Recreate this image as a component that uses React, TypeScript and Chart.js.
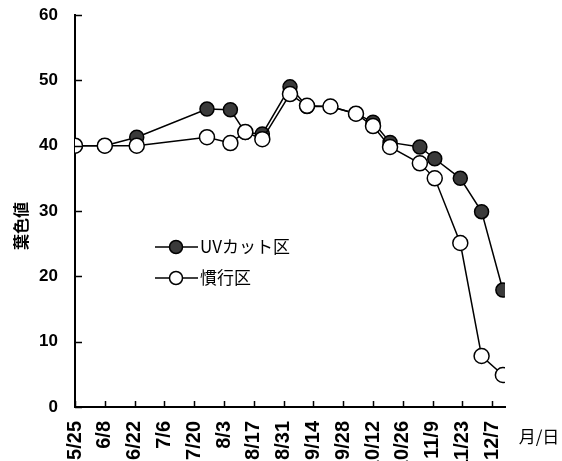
import React, { useEffect, useRef } from "react";
import { Chart, registerables } from "chart.js";

Chart.register(...registerables);

// Sampling dates (month/day) and leaf colour readings for each plot
const sampleDates = [
  "5/25", "6/8", "6/23", "7/26", "8/6", "8/13", "8/21", "9/3", "9/11",
  "9/22", "10/4", "10/12", "10/20", "11/3", "11/10", "11/22", "12/2", "12/12",
];
const uvCutValues = [
  40, 40, 41.3, 45.6, 45.5, 42.0, 41.8, 49.0, 46.0,
  46.0, 44.9, 43.6, 40.5, 39.8, 38.0, 35.0, 29.9, 17.9,
];
const conventionalValues = [
  40, 40, 40, 41.3, 40.4, 42.1, 41.0, 47.9, 46.1,
  46.0, 44.9, 43.0, 39.8, 37.3, 35.0, 25.1, 7.8, 4.9,
];
const tickDates = [
  "5/25", "6/8", "6/22", "7/6", "7/20", "8/3", "8/17", "8/31",
  "9/14", "9/28", "10/12", "10/26", "11/9", "11/23", "12/7",
];
const yTicks = [0, 10, 20, 30, 40, 50, 60];
const seriesNames = ["UVカット区", "慣行区"];
const yTitle = "葉色値";
const xTitle = "月/日";

const START = Date.UTC(2001, 4, 25);
const DAY = 86400000;
const dayOf = (md: string) => {
  const [m, d] = md.split("/").map(Number);
  return Math.round((Date.UTC(2001, m - 1, d) - START) / DAY);
};

const NUM_FONT = '"Liberation Sans", Arial, sans-serif';
const JP_FONT = '"Noto Sans CJK JP", "Noto Sans", sans-serif';
const CANVAS_W = 562;
const CANVAS_H = 480;
const AREA_TOP = 15;
const AREA_BOTTOM = 407;
const AREA_LEFT = 75;
const AREA_RIGHT = 505;

const decor = {
  id: "decor",
  afterDraw(chart: any) {
    const { ctx, chartArea: area } = chart;
    const xs = chart.scales.x;
    const ys = chart.scales.y;
    ctx.save();
    ctx.strokeStyle = "#000";
    ctx.lineWidth = 1.5;
    // inward tick marks
    ctx.beginPath();
    xs.ticks.forEach((t: any) => {
      const px = Math.round(xs.getPixelForValue(t.value)) + 0.5;
      ctx.moveTo(px, area.bottom);
      ctx.lineTo(px, area.bottom - 6);
    });
    ys.ticks.forEach((t: any) => {
      const py = Math.round(ys.getPixelForValue(t.value)) + 0.5;
      ctx.moveTo(area.left, py);
      ctx.lineTo(area.left + 7, py);
    });
    ctx.stroke();

    // legend inside the plot
    const rows = [
      { name: seriesNames[0], fill: "#3a3a3a", y: 247 },
      { name: seriesNames[1], fill: "#ffffff", y: 278 },
    ];
    rows.forEach((r) => {
      ctx.beginPath();
      ctx.lineWidth = 1.5;
      ctx.moveTo(155, r.y);
      ctx.lineTo(198, r.y);
      ctx.stroke();
      ctx.beginPath();
      ctx.arc(176, r.y, 6.5, 0, Math.PI * 2);
      ctx.fillStyle = r.fill;
      ctx.fill();
      ctx.stroke();
      ctx.fillStyle = "#000";
      ctx.font = `17px ${JP_FONT}`;
      ctx.textAlign = "left";
      ctx.textBaseline = "middle";
      ctx.fillText(r.name, 200, r.y);
    });

    // axis titles
    ctx.fillStyle = "#000";
    ctx.font = `bold 16px ${JP_FONT}`;
    ctx.save();
    ctx.translate(21, 226);
    ctx.rotate(-Math.PI / 2);
    ctx.textAlign = "center";
    ctx.textBaseline = "middle";
    ctx.fillText(yTitle, 0, 0);
    ctx.restore();

    ctx.font = `17px ${JP_FONT}`;
    ctx.textAlign = "center";
    ctx.textBaseline = "middle";
    ctx.fillText(xTitle, 539, 437);
    ctx.restore();
  },
};

export default function App() {
  const ref = useRef<HTMLCanvasElement>(null);

  useEffect(() => {
    if (!ref.current) return;
    const tickDays = tickDates.map(dayOf);
    const chart = new Chart(ref.current, {
      type: "line",
      data: {
        datasets: [
          {
            label: seriesNames[0],
            data: sampleDates.map((d, i) => ({ x: dayOf(d), y: uvCutValues[i] })),
            borderColor: "#000",
            borderWidth: 1.5,
            pointRadius: 7,
            pointBorderWidth: 1.5,
            pointBackgroundColor: "#3a3a3a",
            pointBorderColor: "#000",
            order: 2,
          },
          {
            label: seriesNames[1],
            data: sampleDates.map((d, i) => ({ x: dayOf(d), y: conventionalValues[i] })),
            borderColor: "#000",
            borderWidth: 1.5,
            pointRadius: 7.5,
            pointBorderWidth: 1.5,
            pointBackgroundColor: "#fff",
            pointBorderColor: "#000",
            order: 1,
          },
        ],
      },
      options: {
        animation: false,
        responsive: false,
        layout: {
          autoPadding: false,
          padding: { top: AREA_TOP, right: CANVAS_W - AREA_RIGHT, left: 0, bottom: 0 },
        },
        plugins: { legend: { display: false }, tooltip: { enabled: false } },
        scales: {
          x: {
            type: "linear",
            min: 0,
            max: 202,
            afterBuildTicks: (s: any) => {
              s.ticks = tickDays.map((v) => ({ value: v }));
            },
            afterFit: (s: any) => {
              s.height = CANVAS_H - AREA_BOTTOM;
              s.paddingLeft = 0;
              s.paddingRight = 0;
            },
            grid: { display: true, drawOnChartArea: false, drawTicks: false },
            border: { display: true, color: "#000", width: 2 },
            ticks: {
              autoSkip: false,
              minRotation: 90,
              maxRotation: 90,
              padding: 14,
              color: "#000",
              font: { family: NUM_FONT, size: 20, weight: "bold" },
              callback: (v: any) => tickDates[tickDays.indexOf(Number(v))] ?? "",
            },
          },
          y: {
            min: 0,
            max: 60,
            afterBuildTicks: (s: any) => {
              s.ticks = yTicks.map((v) => ({ value: v }));
            },
            afterFit: (s: any) => {
              s.width = AREA_LEFT;
              s.paddingTop = 0;
              s.paddingBottom = 0;
            },
            grid: { display: true, drawOnChartArea: false, drawTicks: false },
            border: { display: true, color: "#000", width: 2 },
            ticks: {
              padding: 17,
              color: "#000",
              font: { family: NUM_FONT, size: 17, weight: "bold" },
            },
          },
        },
      },
      plugins: [decor],
    });
    return () => chart.destroy();
  }, []);

  return (
    <div
      style={{
        position: "fixed",
        top: 0,
        left: 0,
        width: CANVAS_W,
        height: 461,
        overflow: "hidden",
        background: "#fff",
      }}
    >
      <canvas ref={ref} width={CANVAS_W} height={CANVAS_H} style={{ display: "block" }} />
    </div>
  );
}
